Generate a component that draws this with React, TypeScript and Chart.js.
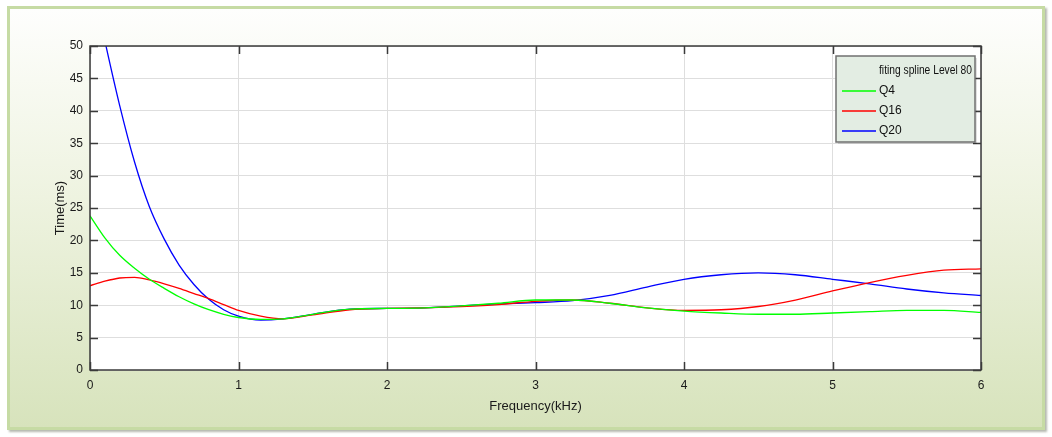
import React, { useEffect, useRef } from "react";
import { Chart, registerables } from "chart.js";

Chart.register(...registerables);

// Frequency (kHz) sample positions
const freq = [0, 0.1, 0.2, 0.3, 0.4, 0.5, 0.6, 0.7, 0.8, 0.9, 1.0, 1.15, 1.3, 1.5, 1.75, 2, 2.25, 2.5, 2.75, 3, 3.25, 3.5, 3.75, 4, 4.25, 4.5, 4.75, 5, 5.25, 5.5, 5.75, 6];

// Time (ms) values for each series
const q4 = [23.8, 20.4, 17.7, 15.7, 14.0, 12.6, 11.3, 10.2, 9.3, 8.6, 8.1, 7.8, 7.9, 8.6, 9.4, 9.5, 9.6, 9.9, 10.3, 10.8, 10.8, 10.3, 9.6, 9.1, 8.8, 8.6, 8.6, 8.8, 9.0, 9.2, 9.2, 8.9];
const q16 = [13.0, 13.7, 14.2, 14.3, 13.9, 13.3, 12.6, 11.8, 11.0, 10.1, 9.2, 8.3, 7.9, 8.5, 9.3, 9.5, 9.6, 9.8, 10.1, 10.6, 10.8, 10.3, 9.6, 9.2, 9.3, 9.8, 10.8, 12.2, 13.5, 14.6, 15.4, 15.6];
const q20 = [61.5, 50.8, 40.8, 32.1, 25.2, 20.2, 16.2, 13.2, 10.9, 9.3, 8.3, 7.7, 7.9, 8.6, 9.4, 9.5, 9.6, 9.9, 10.2, 10.4, 10.7, 11.5, 12.8, 14.0, 14.7, 15.0, 14.7, 14.0, 13.3, 12.5, 11.9, 11.5];

const seriesNames = ["Q4", "Q16", "Q20"];
const seriesColors = ["#00ff00", "#ff0000", "#0000ff"];
const legendTitle = "fiting spline Level 80";

const xTicks = [0, 1, 2, 3, 4, 5, 6];
const yTicks = [0, 5, 10, 15, 20, 25, 30, 35, 40, 45, 50];

const FONT = "'Liberation Sans', Arial, sans-serif";

const boxPlugin = {
  id: "matlabBox",
  afterDatasetsDraw(chart: any) {
    const { ctx, chartArea, scales } = chart;
    const { left, right, top, bottom } = chartArea;
    ctx.save();
    ctx.strokeStyle = "#3a3a3a";
    ctx.lineWidth = 1.5;
    ctx.strokeRect(left, top, right - left, bottom - top);
    const tl = 8;
    ctx.beginPath();
    xTicks.forEach((v) => {
      const px = Math.round(scales.x.getPixelForValue(v)) + 0.5;
      ctx.moveTo(px, bottom);
      ctx.lineTo(px, bottom - tl);
      ctx.moveTo(px, top);
      ctx.lineTo(px, top + tl);
    });
    yTicks.forEach((v) => {
      const py = Math.round(scales.y.getPixelForValue(v)) + 0.5;
      ctx.moveTo(left, py);
      ctx.lineTo(left + tl, py);
      ctx.moveTo(right, py);
      ctx.lineTo(right - tl, py);
    });
    ctx.stroke();

    // legend box
    const bx = right - 145;
    const by = top + 10;
    const bw = 139;
    const bh = 86;
    ctx.fillStyle = "rgba(0,0,0,0.12)";
    ctx.fillRect(bx + 2, by + 2, bw, bh);
    ctx.fillStyle = "#e3ede3";
    ctx.fillRect(bx, by, bw, bh);
    ctx.strokeStyle = "#707070";
    ctx.lineWidth = 1.5;
    ctx.strokeRect(bx, by, bw, bh);
    ctx.fillStyle = "#111";
    ctx.textBaseline = "middle";
    ctx.textAlign = "left";
    ctx.font = "12px " + FONT;
    ctx.save();
    ctx.translate(bx + 43, by + 15);
    ctx.scale(0.855, 1);
    ctx.fillText(legendTitle, 0, 0);
    ctx.restore();
    seriesNames.forEach((name, i) => {
      const ly = by + 35 + i * 20;
      ctx.strokeStyle = seriesColors[i];
      ctx.lineWidth = 1.3;
      ctx.beginPath();
      ctx.moveTo(bx + 6, ly);
      ctx.lineTo(bx + 40, ly);
      ctx.stroke();
      ctx.fillStyle = "#111";
      ctx.fillText(name, bx + 43, ly);
    });
    ctx.restore();
  },
};

export default function App() {
  const canvasRef = useRef<HTMLCanvasElement | null>(null);

  useEffect(() => {
    const canvas = canvasRef.current;
    if (!canvas) return;
    const series = [q4, q16, q20];
    const chart = new Chart(canvas, {
      type: "line",
      data: {
        datasets: series.map((vals, i) => ({
          label: seriesNames[i],
          data: freq.map((f, j) => ({ x: f, y: vals[j] })),
          borderColor: seriesColors[i],
          backgroundColor: seriesColors[i],
          borderWidth: 1.3,
          pointRadius: 0,
          fill: false,
          cubicInterpolationMode: "monotone" as const,
        })),
      },
      options: {
        animation: false,
        responsive: false,
        maintainAspectRatio: false,
        layout: { padding: { left: 0, top: 46, right: 71, bottom: 0 } },
        plugins: { legend: { display: false }, tooltip: { enabled: false } },
        scales: {
          x: {
            type: "linear",
            min: 0,
            max: 6,
            ticks: { stepSize: 1, padding: 8, color: "#1a1a1a", font: { family: FONT, size: 12 } },
            grid: { color: "#dedede", drawTicks: false, lineWidth: 1 },
            border: { display: false },
            title: {
              display: true,
              text: "Frequency(kHz)",
              color: "#1a1a1a",
              font: { family: FONT, size: 13 },
              padding: { top: 0, bottom: 23 },
            },
            afterFit: (s: any) => {
              s.height = 67;
            },
          },
          y: {
            type: "linear",
            min: 0,
            max: 50,
            ticks: { stepSize: 5, padding: 7, color: "#1a1a1a", font: { family: FONT, size: 12 } },
            grid: { color: "#dedede", drawTicks: false, lineWidth: 1 },
            border: { display: false },
            title: {
              display: true,
              text: "Time(ms)",
              color: "#1a1a1a",
              font: { family: FONT, size: 13 },
              padding: { top: 53, bottom: 0 },
            },
            afterFit: (s: any) => {
              s.width = 90;
            },
          },
        },
      },
      plugins: [boxPlugin],
    });
    return () => chart.destroy();
  }, []);

  return (
    <div style={{ position: "absolute", left: 0, top: 0, width: 1052, height: 437 }}>
      <div
        style={{
          position: "absolute",
          left: 7,
          top: 6,
          width: 1038,
          height: 424,
          boxSizing: "border-box",
          border: "3px solid #c6dba4",
          background: "linear-gradient(to bottom, #fefefd 0%, #eef3e0 45%, #d7e3bc 100%)",
          boxShadow: "2px 2px 2px rgba(90,100,80,0.45)",
        }}
      />
      <div
        style={{
          position: "absolute",
          left: 90,
          top: 46,
          width: 891,
          height: 324,
          background: "#ffffff",
        }}
      />
      <canvas ref={canvasRef} width={1052} height={437} style={{ position: "absolute", left: 0, top: 0, width: 1052, height: 437 }} />
    </div>
  );
}
